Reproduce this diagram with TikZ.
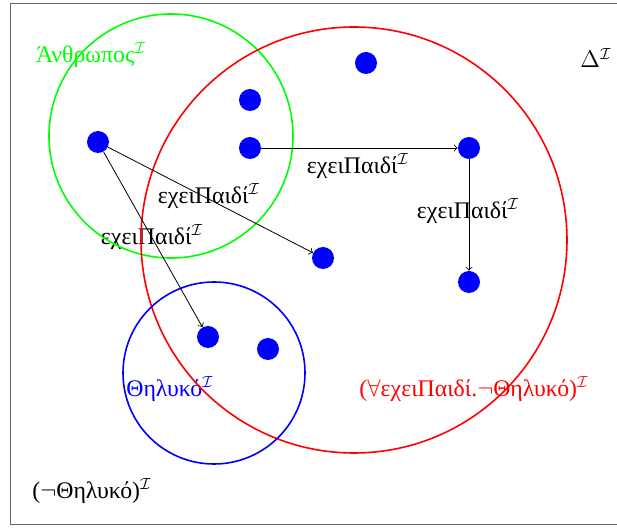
\documentclass[tikz,border=0pt]{standalone}
\usepackage{amsmath}
\usepackage{amssymb}
\usepackage{fontspec}
\setmainfont{Liberation Serif}
\usepackage{tikz}
\usetikzlibrary{calc}

\begin{document}
\begin{tikzpicture}[x=0.5pt,y=-0.5pt]
    % `element' is used for the individuals (blue dots).
    % `role' is used for the εχειΠαιδί edges.
    % `concept' is used for the sets (circles).
    \tikzstyle{element} = [fill=blue,shape=circle,minimum size=11pt,inner sep=0pt]
    \tikzstyle{role} = [->,black]
    \tikzstyle{concept} = [thick]
    \tikzstyle{lbl} = [inner sep=0pt,font=\fontsize{11.9}{14}\selectfont]
    %
    \useasboundingbox (0,0) rectangle (617,529);
    \draw[gray!80!black] (10,3) rectangle (640,524);
    %
    \coordinate (cA) at (171,136);
    \coordinate (cF) at (354,240);
    \coordinate (cT) at (214,373);
    %
    \node[element] (x1) at (98,142) {};
    \node[element] (x2) at (250,100) {};
    \node[element] (x3) at (250,148) {};
    \node[element] (x4) at (366,63) {};
    \node[element] (x5) at (469,148) {};
    \node[element] (x6) at (323,258) {};
    \node[element] (x7) at (469,282) {};
    \node[element] (x8) at (208,337) {};
    \node[element] (x9) at (268,349) {};
    %
    \node[lbl,green] (lA) at (91,55) {Άνθρωπος$^{\mathcal{I}}$};
    \node[lbl] (lD) at (596,58) {$\Delta^{\mathcal{I}}$};
    \node[lbl] (r1) at (358,166) {εχειΠαιδί$^{\mathcal{I}}$};
    \node[lbl] (r2) at (209,196) {εχειΠαιδί$^{\mathcal{I}}$};
    \node[lbl] (r3) at (152,237) {εχειΠαιδί$^{\mathcal{I}}$};
    \node[lbl] (r4) at (468,211) {εχειΠαιδί$^{\mathcal{I}}$};
    \node[lbl,blue] (lT) at (170,389) {Θηλυκό$^{\mathcal{I}}$};
    \node[lbl,red] (lF) at (474,389) {($\forall$εχειΠαιδί.$\neg$Θηλυκό)$^{\mathcal{I}}$};
    \node[lbl] (lN) at (92,491) {($\neg$Θηλυκό)$^{\mathcal{I}}$};
    %
    % Draw sets.
    \draw[concept,green] (cA) circle (61pt);
    \draw[concept,red] (cF) circle (106.5pt);
    \draw[concept,blue] (cT) circle (45.5pt);
    %
    % Draw edges.
    \draw[role] (x1) -- (x6);
    \draw[role] (x1) -- (x8);
    \draw[role] (x3) -- (x5);
    \draw[role] (x5) -- (x7);
\end{tikzpicture}
\end{document}
